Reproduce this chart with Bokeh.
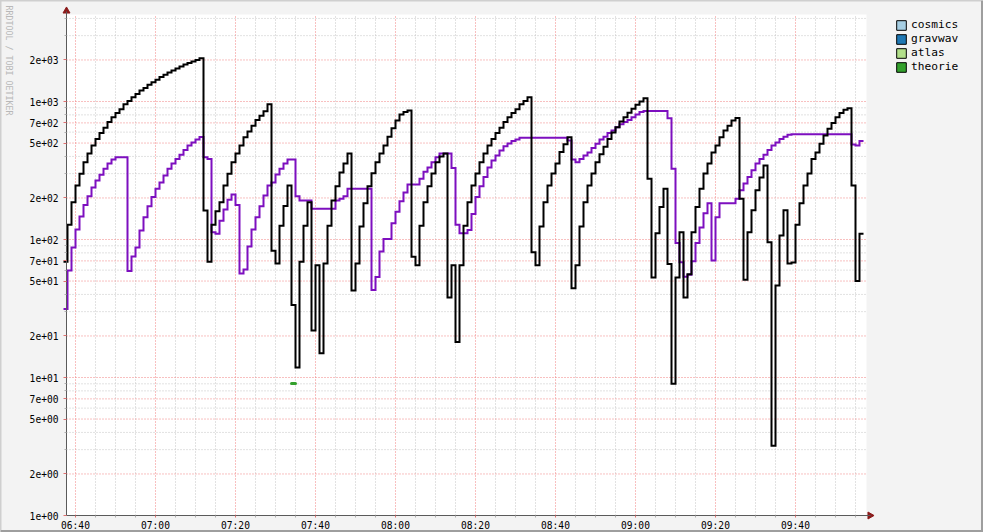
from math import pi, nan
from bokeh.plotting import figure
from bokeh.models import Range1d, FixedTicker, Legend, LegendItem, Label
from bokeh.embed import file_html
from bokeh.resources import INLINE

# ---------------- data ----------------
series_start = "06:37"          # first one-minute sample
view_start = "06:37:45"         # left edge of the plot area
view_end = "09:57:45"           # right edge of the plot area
plot_top = 4270                 # top edge of the plot area (log axis)

x_tick_labels = ["06:40", "07:00", "07:20", "07:40", "08:00",
                 "08:20", "08:40", "09:00", "09:20", "09:40"]
y_tick_values = [1, 2, 5, 7, 10, 20, 50, 70, 100, 200, 500, 700, 1000, 2000]
y_minor_values = [3, 4, 6, 8, 9, 30, 40, 60, 80, 90, 300, 400, 600, 800, 900,
                  3000, 4000]

legend_names = ["cosmics", "gravwav", "atlas", "theorie"]
legend_colors = ["#a6cee3", "#1f78b4", "#b2df8a", "#33a02c"]

theorie_time = ["07:34"]
theorie_vals = [9.05]

black_vals = [
    69,
    128, 186, 246, 300, 363, 420, 480, 536, 590, 644, 710, 770, 825, 880, 955,
    1010, 1075, 1135, 1200, 1255, 1320, 1380, 1440, 1505, 1565, 1620, 1677,
    1735, 1795, 1855, 1900, 1950, 2000, 2060,
    162, 69,
    128, 160, 186, 246, 300, 363, 420, 480, 550, 605, 668, 733, 790, 850, 955,
    83, 67, 126, 175, 246,
    33.5, 11.8, 69, 126, 186, 21.9, 65, 15, 67, 126, 192, 243, 306, 356, 420,
    42.7, 67,
    124, 183, 243, 302, 363, 420, 480, 555, 640, 727, 805, 840, 862,
    75, 65,
    126, 186, 243, 301, 363, 400, 420,
    38, 65, 18.1, 65,
    126, 186, 246, 301, 363, 420, 480, 536, 590, 644, 710, 770, 825, 880, 955,
    1010, 1075,
    81, 65,
    124, 186, 246, 301, 356, 430, 490, 550,
    44.4, 65,
    124, 186, 246, 301, 363, 415, 470, 535, 595, 651, 716, 770, 828, 885, 946,
    1000, 1055,
    275, 53, 111, 172, 233, 66.5, 9, 53, 113, 38, 56,
    113, 172, 233, 301, 355, 427, 480, 550, 617, 668, 727, 760,
    197, 51,
    113, 163, 227, 281, 344,
    95.5, 3.2, 46.4, 107, 163, 67, 68,
    128, 183, 246, 301, 383, 427, 495, 567, 635, 700, 770, 825, 870, 895,
    246, 50, 110,
]

purple_vals = [
    31.4,
    59.6, 87.5, 118, 147, 178, 206, 238, 268, 295, 326, 355, 380, 394, 394, 394,
    59, 75.4, 87.5, 116, 145, 174, 203, 233, 259, 291, 326, 355, 383, 412, 446,
    480, 505, 530, 552,
    394, 383,
    113, 110, 137, 165, 194, 212, 178,
    56.7, 60.5,
    89, 118, 145, 174, 208, 246, 259, 296, 326, 355, 380, 380,
    206, 192, 192, 192,
    167, 167, 167, 167, 167, 167,
    192, 197, 206,
    233, 233, 233, 233, 233, 233,
    43.1, 53.4, 81.9, 101, 101, 131, 159, 189, 219,
    250, 250, 250,
    275, 310, 333, 363, 394,
    420, 420, 420,
    330, 128, 111, 111, 117,
    153, 203, 243, 284, 333, 374, 406, 442, 473, 497, 517, 530,
    546, 546, 546, 546, 546, 546, 546, 546, 546, 546, 546, 546,
    522, 380, 363,
    383, 406, 427, 460, 495, 530, 555, 590, 617, 651, 683, 710, 735, 770, 806, 840,
    855, 855, 855, 855, 855, 855,
    755, 326, 94.3, 68.5, 53.8, 55.6, 69.5, 94.3, 122, 155, 183,
    70.4, 145,
    183, 183, 183, 183,
    197, 227, 255, 284, 318, 355, 383, 412, 446, 480, 505, 536, 555, 575,
    580, 580, 580, 580, 580, 580, 580, 580, 580, 580, 580, 580, 580, 580, 580,
    487, 480, 517,
]


def mins(s):
    parts = [int(v) for v in s.split(":")]
    total = parts[0] * 60 + parts[1]
    if len(parts) > 2:
        total += parts[2] / 60.0
    return total


def step_xy(start, vals):
    xs, ys = [], []
    for i, v in enumerate(vals):
        xs += [start + i, start + i + 1]
        ys += [v, v]
    return xs, ys


# ---------------- layout (pixels) ----------------
W, H = 983, 532
AXIS_X_PX, AXIS_Y_PX = 66, 515      # where the two axes sit on the canvas
PX_PER_MIN, PX_PER_DEC = 4.0, 138.0

t0 = mins(series_start)
xs0 = mins(view_start)
xs1 = mins(view_end)
x_lo = xs0 - AXIS_X_PX / PX_PER_MIN
x_hi = x_lo + W / PX_PER_MIN
y_lo = 10 ** (-(H - AXIS_Y_PX) / PX_PER_DEC)
y_hi = 10 ** (AXIS_Y_PX / PX_PER_DEC)
y_arrow = 10 ** ((AXIS_Y_PX - 10.5) / PX_PER_DEC)
x_arrow = xs0 + (869.5 - AXIS_X_PX) / PX_PER_MIN
# dark lower/right edge of the frame (1.5 px in from the canvas edge)
x_edge = x_hi - 1.5 / PX_PER_MIN
y_edge = 10 ** (-(H - 1.5 - AXIS_Y_PX) / PX_PER_DEC)

FONT = "DejaVu Sans Mono"
BG = "#f3f3f3"
p = figure(width=W, height=H, output_backend="svg", toolbar_location=None,
           y_axis_type="log",
           x_range=Range1d(x_lo, x_hi), y_range=Range1d(y_lo, y_hi),
           min_border=0, min_border_left=0, min_border_right=0,
           min_border_top=0, min_border_bottom=0)
p.background_fill_color = BG
p.border_fill_color = BG
p.outline_line_color = "#cfcfcf"
p.outline_line_width = 2
p.xgrid.visible = False
p.ygrid.visible = False

# plot area
p.quad(left=[xs0], right=[xs1], bottom=[1], top=[plot_top],
       fill_color="white", line_color=None)

# frame shading (right and bottom)
p.segment(x0=[x_edge, x_lo], x1=[x_edge, x_hi], y0=[y_lo, y_edge], y1=[y_hi, y_edge],
          line_color="#9e9e9e", line_width=2)

# grid
x_ticks = [mins(s) for s in x_tick_labels]
x_minor = [m for m in range(int(x_ticks[0]), int(xs1) + 1, 5) if m not in x_ticks]
MAJ, MIN_C = "#f08080", "#c4c4c4"
p.segment(x0=x_minor, x1=x_minor, y0=[1] * len(x_minor), y1=[plot_top] * len(x_minor),
          line_color=MIN_C, line_dash="1 2", line_width=1)
p.segment(x0=[xs0] * len(y_minor_values), x1=[xs1] * len(y_minor_values),
          y0=y_minor_values, y1=y_minor_values,
          line_color=MIN_C, line_dash="1 2", line_width=1)
p.segment(x0=x_ticks, x1=x_ticks, y0=[1] * len(x_ticks), y1=[plot_top] * len(x_ticks),
          line_color=MAJ, line_dash="1 2", line_width=1)
p.segment(x0=[xs0] * len(y_tick_values), x1=[xs1] * len(y_tick_values),
          y0=y_tick_values, y1=y_tick_values,
          line_color=MAJ, line_dash="1 2", line_width=1)

# axes placed at fixed positions inside the (full-canvas) frame
p.xaxis.ticker = FixedTicker(ticks=x_ticks, minor_ticks=x_minor)
p.xaxis.major_label_overrides = {t: s for t, s in zip(x_ticks, x_tick_labels)}
p.yaxis.ticker = FixedTicker(ticks=y_tick_values, minor_ticks=y_minor_values)
p.yaxis.major_label_overrides = {v: "{:.0e}".format(v) for v in y_tick_values}
p.xaxis.fixed_location = 1
p.yaxis.fixed_location = xs0
p.xaxis.bounds = (xs0, x_arrow)
p.yaxis.bounds = (1, y_arrow)

for ax in (p.xaxis, p.yaxis):
    ax.major_label_text_font = FONT
    ax.major_label_text_font_size = "9.6px"
    ax.major_label_text_color = "#000000"
    ax.axis_line_color = "#5a5a5a"
    ax.major_tick_line_color = "#e07070"
    ax.minor_tick_line_color = "#b0b0b0"
    ax.major_tick_in = 0
    ax.minor_tick_in = 0
p.yaxis.major_tick_out = 3
p.yaxis.minor_tick_out = 2
p.yaxis.major_label_standoff = 5
p.xaxis.major_tick_out = 2
p.xaxis.minor_tick_out = 2
p.xaxis.major_label_standoff = 2

# series
px, py = step_xy(t0, purple_vals)
p.line(px, py, line_color="#7d0fbf", line_width=2, line_join="miter")
bx, by = step_xy(t0, black_vals)
p.line(bx, by, line_color="#000000", line_width=2, line_join="miter")
tx = [mins(s) for s in theorie_time]
p.segment(x0=tx, x1=[x + 1 for x in tx], y0=theorie_vals, y1=theorie_vals,
          line_color=legend_colors[3], line_width=3, line_cap="round")

# axis arrows
p.scatter(x=[xs0], y=[y_arrow], marker="triangle", size=7,
          fill_color="#8b1a1a", line_color="#8b1a1a")
p.scatter(x=[x_arrow], y=[1], marker="triangle", size=7, angle=-pi / 2,
          fill_color="#8b1a1a", line_color="#8b1a1a")

# legend
items = []
for name, col in zip(legend_names, legend_colors):
    r = p.quad(left=[nan], right=[nan], top=[nan], bottom=[nan], fill_color=col,
               line_color="black", line_width=1)
    items.append(LegendItem(label=name, renderers=[r]))
legend = Legend(items=items, location=(895, 458.5), margin=0, padding=0, spacing=0,
                glyph_width=12, glyph_height=12, label_height=14, label_standoff=4,
                label_text_font=FONT, label_text_font_size="11.2px",
                label_text_color="#000000", label_text_baseline="middle",
                border_line_alpha=0, background_fill_alpha=0)
p.add_layout(legend)

# watermark
p.add_layout(Label(x=8, y=H - 5, x_units="screen", y_units="screen",
                   text="RRDTOOL / TOBI OETIKER", angle=-pi / 2,
                   text_align="left", text_baseline="middle",
                   text_font=FONT, text_font_size="8.3px",
                   text_color="#b8b8b8"))

open("out.html", "w").write(file_html(p, INLINE))
